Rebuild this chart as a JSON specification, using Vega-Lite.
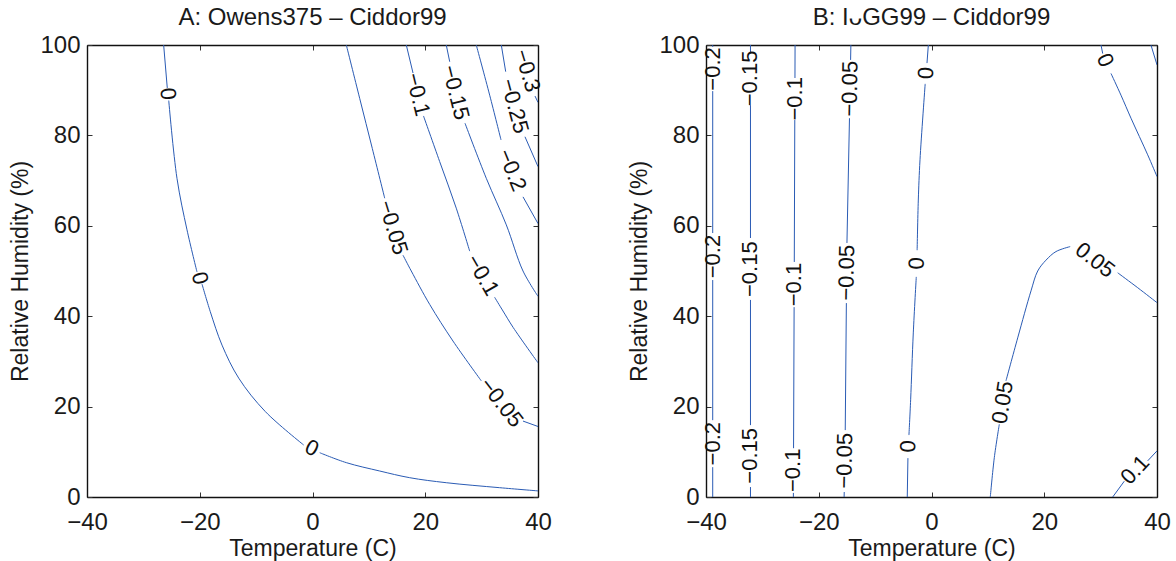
{
  "$schema": "https://vega.github.io/schema/vega-lite/v6.json",
  "background": "white",
  "padding": {"left": 9, "top": 6, "right": 5, "bottom": 5},
  "config": {
    "font": "Liberation Sans",
    "view": {"stroke": null},
    "axis": {
      "grid": false,
      "domainColor": "#111111",
      "domainWidth": 1.4,
      "tickColor": "#333333",
      "tickWidth": 1,
      "tickSize": -5,
      "labelFont": "Liberation Sans",
      "labelFontSize": 24,
      "labelColor": "#1a1a1a",
      "labelFlush": false,
      "labelOverlap": false,
      "titleFont": "Liberation Sans",
      "titleFontSize": 23,
      "titleFontWeight": "normal",
      "titleColor": "#1a1a1a"
    },
    "title": {"font": "Liberation Sans", "fontSize": 24, "fontWeight": "normal", "color": "#1a1a1a", "anchor": "middle", "frame": "group", "offset": 3}
  },
  "datasets": {
    "linesA": [
      {"level": 0, "part": 1, "T": -26.40, "RH": 100},
      {"level": 0, "part": 1, "T": -25.76, "RH": 90.5},
      {"level": 0, "part": 2, "T": -25.50, "RH": 87.7},
      {"level": 0, "part": 2, "T": -24.04, "RH": 70.5},
      {"level": 0, "part": 2, "T": -22.26, "RH": 59.1},
      {"level": 0, "part": 2, "T": -20.49, "RH": 49.8},
      {"level": 0, "part": 3, "T": -19.60, "RH": 47.1},
      {"level": 0, "part": 3, "T": -18.13, "RH": 41.0},
      {"level": 0, "part": 3, "T": -16.05, "RH": 33.6},
      {"level": 0, "part": 3, "T": -13.09, "RH": 26.3},
      {"level": 0, "part": 3, "T": -8.37, "RH": 18.9},
      {"level": 0, "part": 3, "T": -1.56, "RH": 11.5},
      {"level": 0, "part": 4, "T": 1.28, "RH": 9.8},
      {"level": 0, "part": 4, "T": 6.0, "RH": 7.6},
      {"level": 0, "part": 4, "T": 11.92, "RH": 5.75},
      {"level": 0, "part": 4, "T": 17.24, "RH": 4.27},
      {"level": 0, "part": 4, "T": 23.73, "RH": 3.16},
      {"level": 0, "part": 4, "T": 33.2, "RH": 2.06},
      {"level": 0, "part": 4, "T": 40.0, "RH": 1.35},

      {"level": -0.05, "part": 1, "T": 6.0, "RH": 100},
      {"level": -0.05, "part": 1, "T": 8.37, "RH": 88.2},
      {"level": -0.05, "part": 1, "T": 10.61, "RH": 77.1},
      {"level": -0.05, "part": 1, "T": 12.81, "RH": 66.1},
      {"level": -0.05, "part": 2, "T": 16.05, "RH": 53.5},
      {"level": -0.05, "part": 2, "T": 17.52, "RH": 50.0},
      {"level": -0.05, "part": 2, "T": 20.79, "RH": 42.6},
      {"level": -0.05, "part": 2, "T": 24.92, "RH": 34.5},
      {"level": -0.05, "part": 2, "T": 29.94, "RH": 25.7},
      {"level": -0.05, "part": 3, "T": 37.34, "RH": 16.8},
      {"level": -0.05, "part": 3, "T": 40.0, "RH": 15.6},

      {"level": -0.1, "part": 1, "T": 16.64, "RH": 100},
      {"level": -0.1, "part": 1, "T": 17.83, "RH": 93.8},
      {"level": -0.1, "part": 2, "T": 19.69, "RH": 84.3},
      {"level": -0.1, "part": 2, "T": 22.56, "RH": 74.2},
      {"level": -0.1, "part": 2, "T": 25.5, "RH": 63.9},
      {"level": -0.1, "part": 2, "T": 27.88, "RH": 54.4},
      {"level": -0.1, "part": 3, "T": 32.3, "RH": 44.2},
      {"level": -0.1, "part": 3, "T": 33.79, "RH": 41.15},
      {"level": -0.1, "part": 3, "T": 35.6, "RH": 37.5},
      {"level": -0.1, "part": 3, "T": 40.0, "RH": 29.7},

      {"level": -0.15, "part": 1, "T": 23.73, "RH": 100},
      {"level": -0.15, "part": 1, "T": 24.34, "RH": 96.3},
      {"level": -0.15, "part": 2, "T": 27.05, "RH": 82.7},
      {"level": -0.15, "part": 2, "T": 30.83, "RH": 70.5},
      {"level": -0.15, "part": 2, "T": 34.38, "RH": 60.2},
      {"level": -0.15, "part": 2, "T": 37.34, "RH": 50.0},
      {"level": -0.15, "part": 2, "T": 40.0, "RH": 44.4},

      {"level": -0.2, "part": 1, "T": 29.05, "RH": 100},
      {"level": -0.2, "part": 1, "T": 31.43, "RH": 88.9},
      {"level": -0.2, "part": 1, "T": 33.44, "RH": 79.0},
      {"level": -0.2, "part": 2, "T": 37.34, "RH": 66.4},
      {"level": -0.2, "part": 2, "T": 40.0, "RH": 60.5},

      {"level": -0.25, "part": 1, "T": 33.49, "RH": 100},
      {"level": -0.25, "part": 1, "T": 34.27, "RH": 94.1},
      {"level": -0.25, "part": 2, "T": 37.69, "RH": 79.7},
      {"level": -0.25, "part": 2, "T": 40.0, "RH": 73.1},

      {"level": -0.3, "part": 2, "T": 39.47, "RH": 88.7},
      {"level": -0.3, "part": 2, "T": 40.0, "RH": 87.3}
    ],
    "labelsA": [
      {"level": 0, "T": -25.64, "RH": 89.2, "angle": 84},
      {"level": 0, "T": -20.01, "RH": 48.4, "angle": 76},
      {"level": 0, "T": -0.14, "RH": 10.8, "angle": 26},
      {"level": -0.05, "T": 14.28, "RH": 59.6, "angle": 73},
      {"level": -0.05, "T": 33.49, "RH": 20.9, "angle": 52},
      {"level": -0.1, "T": 18.66, "RH": 89.05, "angle": 76},
      {"level": -0.1, "T": 30.15, "RH": 49.1, "angle": 60},
      {"level": -0.15, "T": 25.36, "RH": 89.5, "angle": 76},
      {"level": -0.2, "T": 35.38, "RH": 72.3, "angle": 68},
      {"level": -0.25, "T": 35.83, "RH": 86.5, "angle": 75},
      {"level": -0.3, "T": 38.08, "RH": 94.3, "angle": 73}
    ],
    "linesB": [
      {"level": -0.2, "part": 1, "T": -38.81, "RH": 100},
      {"level": -0.2, "part": 1, "T": -38.81, "RH": 99.6},
      {"level": -0.2, "part": 2, "T": -38.81, "RH": 89.8},
      {"level": -0.2, "part": 2, "T": -38.81, "RH": 58.4},
      {"level": -0.2, "part": 3, "T": -38.81, "RH": 48.0},
      {"level": -0.2, "part": 3, "T": -38.81, "RH": 17.0},
      {"level": -0.2, "part": 4, "T": -38.81, "RH": 6.6},
      {"level": -0.2, "part": 4, "T": -38.81, "RH": 0},

      {"level": -0.15, "part": 1, "T": -32.11, "RH": 100},
      {"level": -0.15, "part": 1, "T": -32.11, "RH": 98.2},
      {"level": -0.15, "part": 2, "T": -32.11, "RH": 86.7},
      {"level": -0.15, "part": 2, "T": -32.11, "RH": 57.3},
      {"level": -0.15, "part": 3, "T": -32.11, "RH": 43.6},
      {"level": -0.15, "part": 3, "T": -32.11, "RH": 15.9},
      {"level": -0.15, "part": 4, "T": -32.11, "RH": 2.2},
      {"level": -0.15, "part": 4, "T": -32.11, "RH": 0},

      {"level": -0.1, "part": 1, "T": -24.2, "RH": 100},
      {"level": -0.1, "part": 1, "T": -24.22, "RH": 92.7},
      {"level": -0.1, "part": 2, "T": -24.25, "RH": 83.4},
      {"level": -0.1, "part": 2, "T": -24.34, "RH": 52.0},
      {"level": -0.1, "part": 3, "T": -24.37, "RH": 42.0},
      {"level": -0.1, "part": 3, "T": -24.47, "RH": 10.8},
      {"level": -0.1, "part": 4, "T": -24.5, "RH": 0.9},
      {"level": -0.1, "part": 4, "T": -24.5, "RH": 0},

      {"level": -0.05, "part": 1, "T": -14.3, "RH": 100},
      {"level": -0.05, "part": 1, "T": -14.35, "RH": 96.7},
      {"level": -0.05, "part": 2, "T": -14.55, "RH": 83.8},
      {"level": -0.05, "part": 2, "T": -15.0, "RH": 56.2},
      {"level": -0.05, "part": 3, "T": -15.1, "RH": 42.9},
      {"level": -0.05, "part": 3, "T": -15.3, "RH": 14.8},
      {"level": -0.05, "part": 4, "T": -15.48, "RH": 1.1},
      {"level": -0.05, "part": 4, "T": -15.5, "RH": 0},
      {"level": -0.05, "part": 5, "T": 38.93, "RH": 100},
      {"level": -0.05, "part": 5, "T": 40.0, "RH": 95.6},

      {"level": 0, "part": 1, "T": -0.56, "RH": 100},
      {"level": 0, "part": 1, "T": -0.8, "RH": 96.0},
      {"level": 0, "part": 2, "T": -1.12, "RH": 91.4},
      {"level": 0, "part": 2, "T": -2.04, "RH": 74.6},
      {"level": 0, "part": 2, "T": -2.34, "RH": 65.7},
      {"level": 0, "part": 2, "T": -2.55, "RH": 54.6},
      {"level": 0, "part": 3, "T": -2.7, "RH": 48.7},
      {"level": 0, "part": 3, "T": -3.23, "RH": 36.3},
      {"level": 0, "part": 3, "T": -3.7, "RH": 21.5},
      {"level": 0, "part": 3, "T": -4.0, "RH": 13.7},
      {"level": 0, "part": 4, "T": -4.18, "RH": 8.6},
      {"level": 0, "part": 4, "T": -4.3, "RH": 0},
      {"level": 0, "part": 5, "T": 30.07, "RH": 100},
      {"level": 0, "part": 5, "T": 30.37, "RH": 98.1},
      {"level": 0, "part": 6, "T": 31.84, "RH": 93.7},
      {"level": 0, "part": 6, "T": 33.61, "RH": 88.9},
      {"level": 0, "part": 6, "T": 35.39, "RH": 83.8},
      {"level": 0, "part": 6, "T": 38.35, "RH": 75.7},
      {"level": 0, "part": 6, "T": 40.0, "RH": 70.9},

      {"level": 0.05, "part": 1, "T": 10.43, "RH": 0},
      {"level": 0.05, "part": 1, "T": 11.14, "RH": 8.7},
      {"level": 0.05, "part": 1, "T": 12.03, "RH": 16.1},
      {"level": 0.05, "part": 2, "T": 13.21, "RH": 25.7},
      {"level": 0.05, "part": 2, "T": 15.29, "RH": 35.2},
      {"level": 0.05, "part": 2, "T": 17.65, "RH": 45.6},
      {"level": 0.05, "part": 2, "T": 18.84, "RH": 50.0},
      {"level": 0.05, "part": 2, "T": 20.31, "RH": 52.4},
      {"level": 0.05, "part": 2, "T": 22.08, "RH": 54.3},
      {"level": 0.05, "part": 2, "T": 24.6, "RH": 55.4},
      {"level": 0.05, "part": 3, "T": 33.03, "RH": 49.6},
      {"level": 0.05, "part": 3, "T": 36.58, "RH": 46.3},
      {"level": 0.05, "part": 3, "T": 40.0, "RH": 43.0},

      {"level": 0.1, "part": 1, "T": 32.14, "RH": 0},
      {"level": 0.1, "part": 1, "T": 34.2, "RH": 3.5},
      {"level": 0.1, "part": 2, "T": 38.35, "RH": 8.0},
      {"level": 0.1, "part": 2, "T": 40.0, "RH": 10.2}
    ],
    "labelsB": [
      {"level": -0.2, "T": -38.81, "RH": 94.7, "angle": -90},
      {"level": -0.2, "T": -38.81, "RH": 53.2, "angle": -90},
      {"level": -0.2, "T": -38.81, "RH": 11.8, "angle": -90},
      {"level": -0.15, "T": -32.11, "RH": 92.6, "angle": -90},
      {"level": -0.15, "T": -32.11, "RH": 50.4, "angle": -90},
      {"level": -0.15, "T": -32.11, "RH": 9.1, "angle": -90},
      {"level": -0.1, "T": -24.24, "RH": 88.1, "angle": -90},
      {"level": -0.1, "T": -24.36, "RH": 47.0, "angle": -90},
      {"level": -0.1, "T": -24.48, "RH": 5.9, "angle": -90},
      {"level": -0.05, "T": -14.45, "RH": 90.3, "angle": -89},
      {"level": -0.05, "T": -15.05, "RH": 49.6, "angle": -89},
      {"level": -0.05, "T": -15.4, "RH": 8.0, "angle": -89},
      {"level": 0, "T": -0.98, "RH": 93.8, "angle": -87},
      {"level": 0, "T": -2.63, "RH": 51.7, "angle": -88},
      {"level": 0, "T": -4.11, "RH": 11.2, "angle": -88},
      {"level": 0, "T": 30.78, "RH": 96.6, "angle": 66},
      {"level": 0.05, "T": 12.63, "RH": 20.9, "angle": -81},
      {"level": 0.05, "T": 29.0, "RH": 52.4, "angle": 38},
      {"level": 0.1, "T": 36.1, "RH": 6.0, "angle": -47}
    ]
  },
  "spacing": 168,
  "bounds": "flush",
  "hconcat": [
    {
      "title": {"text": "A: Owens375 – Ciddor99"},
      "width": 451,
      "height": 452,
      "layer": [
        {
          "data": {"name": "linesA"},
          "mark": {"type": "line", "color": "#2a5bb4", "strokeWidth": 1, "interpolate": "catmull-rom", "clip": true},
          "encoding": {
            "x": {"field": "T", "type": "quantitative", "scale": {"domain": [-40, 40], "nice": false, "zero": false},
                  "axis": {"orient": "bottom", "values": [-40, -20, 0, 20, 40], "title": "Temperature (C)", "labelPadding": 18, "titlePadding": 3}},
            "y": {"field": "RH", "type": "quantitative", "scale": {"domain": [0, 100], "nice": false},
                  "axis": {"orient": "left", "values": [0, 20, 40, 60, 80, 100], "title": "Relative Humidity (%)", "labelPadding": 12, "titlePadding": 7}},
            "detail": [{"field": "level"}, {"field": "part"}],
            "order": {"field": "RH", "type": "quantitative"}
          }
        },
        {
          "data": {"name": "labelsA"},
          "mark": {"type": "text", "font": "Liberation Sans", "fontSize": 22, "color": "#111111", "align": "center", "baseline": "middle"},
          "encoding": {
            "x": {"field": "T", "type": "quantitative", "axis": {"orient": "top", "values": [-40, -20, 0, 20, 40], "labels": false, "title": null}},
            "y": {"field": "RH", "type": "quantitative", "axis": {"orient": "right", "values": [0, 20, 40, 60, 80, 100], "labels": false, "title": null}},
            "text": {"field": "level", "type": "quantitative", "format": "~g"},
            "angle": {"field": "angle", "type": "quantitative", "scale": null}
          }
        }
      ],
      "resolve": {"axis": {"x": "independent", "y": "independent"}}
    },
    {
      "title": {"text": "B: IᴗGG99 – Ciddor99"},
      "width": 451,
      "height": 452,
      "layer": [
        {
          "data": {"name": "linesB"},
          "mark": {"type": "line", "color": "#2a5bb4", "strokeWidth": 1, "interpolate": "catmull-rom", "clip": true},
          "encoding": {
            "x": {"field": "T", "type": "quantitative", "scale": {"domain": [-40, 40], "nice": false, "zero": false},
                  "axis": {"orient": "bottom", "values": [-40, -20, 0, 20, 40], "title": "Temperature (C)", "labelPadding": 18, "titlePadding": 3}},
            "y": {"field": "RH", "type": "quantitative", "scale": {"domain": [0, 100], "nice": false},
                  "axis": {"orient": "left", "values": [0, 20, 40, 60, 80, 100], "title": "Relative Humidity (%)", "labelPadding": 12, "titlePadding": 7}},
            "detail": [{"field": "level"}, {"field": "part"}],
            "order": {"field": "RH", "type": "quantitative"}
          }
        },
        {
          "data": {"name": "labelsB"},
          "mark": {"type": "text", "font": "Liberation Sans", "fontSize": 22, "color": "#111111", "align": "center", "baseline": "middle"},
          "encoding": {
            "x": {"field": "T", "type": "quantitative", "axis": {"orient": "top", "values": [-40, -20, 0, 20, 40], "labels": false, "title": null}},
            "y": {"field": "RH", "type": "quantitative", "axis": {"orient": "right", "values": [0, 20, 40, 60, 80, 100], "labels": false, "title": null}},
            "text": {"field": "level", "type": "quantitative", "format": "~g"},
            "angle": {"field": "angle", "type": "quantitative", "scale": null}
          }
        }
      ],
      "resolve": {"axis": {"x": "independent", "y": "independent"}}
    }
  ]
}
